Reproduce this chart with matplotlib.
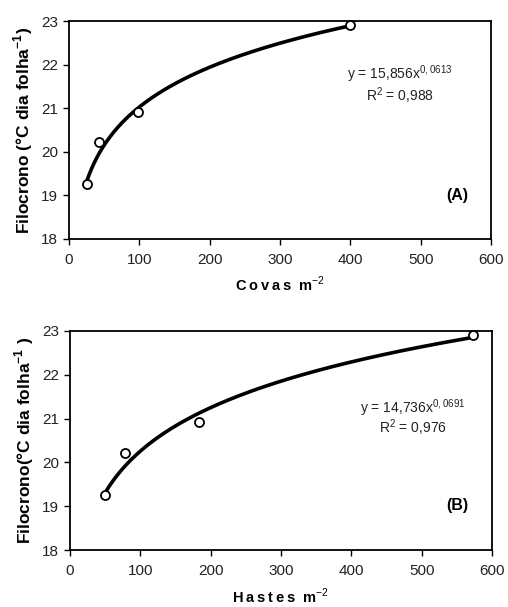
import numpy as np
import matplotlib.pyplot as plt

plt.rcParams['font.family'] = ['Liberation Sans', 'DejaVu Sans']
plt.rcParams['mathtext.fontset'] = 'custom'
plt.rcParams['mathtext.rm'] = 'Liberation Sans'
plt.rcParams['mathtext.bf'] = 'Liberation Sans:bold'

# painel A - covas
covas = [25, 42, 98, 400]
filo_a = [19.25, 20.22, 20.92, 22.92]
coef_a = (15.856, 0.0613)
# painel B - hastes
hastes = [50, 78, 183, 573]
filo_b = [19.25, 20.22, 20.92, 22.92]
coef_b = (14.736, 0.0691)

xticks = [0, 100, 200, 300, 400, 500, 600]
yticks = [18, 19, 20, 21, 22, 23]

fig = plt.figure(figsize=(5.08, 6.07), dpi=100)
axA = fig.add_axes([0.1358, 0.6063, 0.8307, 0.359])
axB = fig.add_axes([0.1378, 0.0939, 0.8307, 0.3608])

sp = '\u2009'


def painel(ax, x, y, coef, xlabel, ylabel, eq, r2, letra, pos):
    xx = np.linspace(min(x), max(x), 200)
    ax.plot(xx, coef[0] * xx ** coef[1], color='black', lw=2.6, zorder=2)
    ax.plot(x, y, 'o', mfc='white', mec='black', ms=6.5, mew=1.3, zorder=3,
            clip_on=False)
    ax.set_xlim(0, 600)
    ax.set_ylim(18, 23)
    ax.set_xticks(xticks)
    ax.set_yticks(yticks)
    ax.tick_params(direction='out', length=4, width=1, labelsize=11,
                   labelcolor='#222222', pad=4)
    ax.tick_params(axis='x', pad=6)
    for s in ax.spines.values():
        s.set_linewidth(1.3)
    ax.set_xlabel(sp.join(xlabel) + r'  m$^{-2}$', fontsize=10.5,
                  fontweight='bold', labelpad=6)
    ax.set_ylabel(ylabel, fontsize=12.5, fontweight='bold', labelpad=4)
    ax.text(pos[0], pos[1], eq, transform=ax.transAxes, ha='center',
            va='center', fontsize=10, color='#222222')
    ax.text(pos[0], pos[2], r2, transform=ax.transAxes, ha='center',
            va='center', fontsize=10, color='#222222')
    ax.text(pos[3], pos[4], letra, transform=ax.transAxes, ha='center',
            va='center', fontsize=11.5, fontweight='bold')


painel(axA, covas, filo_a, coef_a, 'Covas',
       r'Filocrono (°C dia folha$^{\mathbf{-1}}$)',
       r'y = 15,856x$^{0,0613}$', r'R$^{2}$ = 0,988', '(A)',
       (0.784, 0.757, 0.656, 0.919, 0.2))
painel(axB, hastes, filo_b, coef_b, 'Hastes',
       r'Filocrono(°C dia folha$^{\mathbf{-1}}$ )',
       r'y = 14,736x$^{0,0691}$', r'R$^{2}$ = 0,976', '(B)',
       (0.813, 0.648, 0.557, 0.917, 0.205))

fig.savefig('out.png', dpi=100)
